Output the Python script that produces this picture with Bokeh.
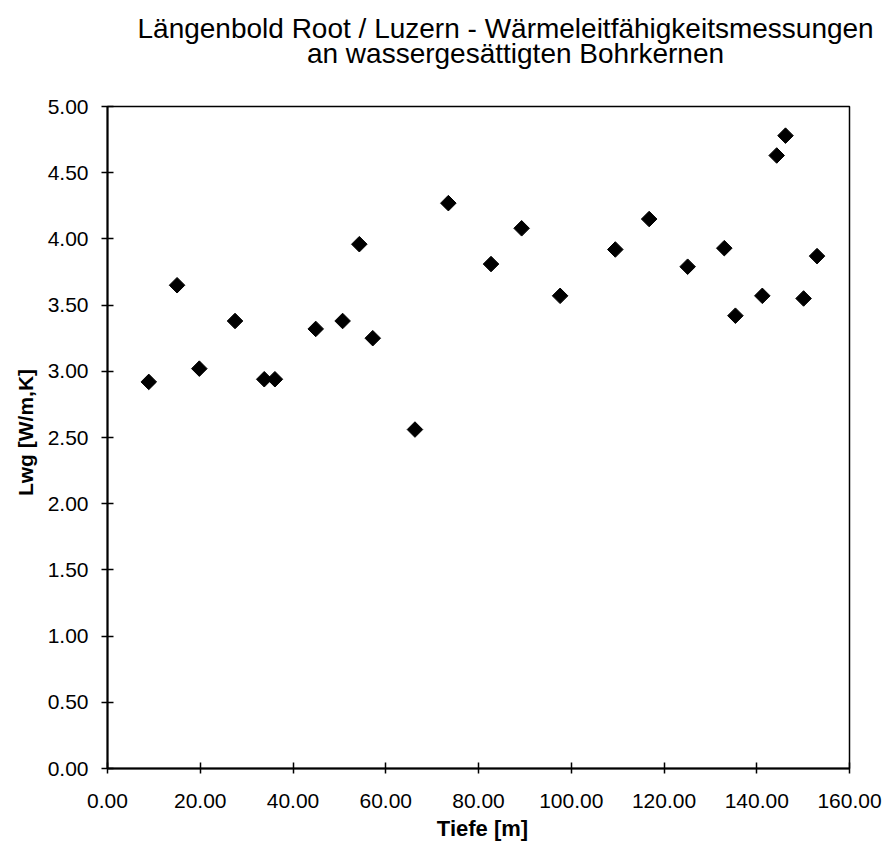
import numpy as np
from bokeh.plotting import figure
from bokeh.models import Range1d, FixedTicker, NumeralTickFormatter, Label
from bokeh.embed import file_html
from bokeh.resources import INLINE

# ---- data ----
title_line1 = "Längenbold Root / Luzern - Wärmeleitfähigkeitsmessungen"
title_line2 = "an wassergesättigten Bohrkernen"
x_label = "Tiefe [m]"
y_label = "Lwg [W/m,K]"

depth_m = [8.9, 15.0, 19.8, 27.5, 33.8, 36.1, 44.9, 50.7, 54.3, 57.2, 66.3,
           73.5, 82.7, 89.3, 97.6, 109.5, 116.8, 125.1, 133.0, 135.4, 141.2,
           144.3, 146.2, 150.1, 153.0]
lwg = [2.92, 3.65, 3.02, 3.38, 2.94, 2.94, 3.32, 3.38, 3.96, 3.25, 2.56,
       4.27, 3.81, 4.08, 3.57, 3.92, 4.15, 3.79, 3.93, 3.42, 3.57,
       4.63, 4.78, 3.55, 3.87]

x_ticks = [0, 20, 40, 60, 80, 100, 120, 140, 160]
y_ticks = [0.0, 0.5, 1.0, 1.5, 2.0, 2.5, 3.0, 3.5, 4.0, 4.5, 5.0]

# ---- layout (pixels on the 888x845 canvas) ----
W, H = 888, 845
PX_L, PX_R, PX_T, PX_B = 107, 849, 106, 768   # the drawn plot box
X0, X1 = x_ticks[0], x_ticks[-1]
Y0, Y1 = y_ticks[0], y_ticks[-1]
FONT = "Liberation Sans"

# the frame covers the whole canvas; axes are drawn at fixed locations
ux = (X1 - X0) / (PX_R - PX_L)
uy = (Y1 - Y0) / (PX_B - PX_T)
x_start, x_end = X0 - PX_L * ux, X1 + (W - PX_R) * ux
y_start, y_end = Y0 - (H - PX_B) * uy, Y1 + PX_T * uy

def fx(px):
    return X0 + (px - PX_L) * ux

def fy(py):
    return Y0 + (PX_B - py) * uy

p = figure(width=W, height=H, output_backend="svg", toolbar_location=None,
           x_range=Range1d(x_start, x_end), y_range=Range1d(y_start, y_end),
           min_border=0)

p.background_fill_color = "white"
p.border_fill_color = "white"
p.xgrid.visible = False
p.ygrid.visible = False
p.outline_line_color = None

xa, ya = p.xaxis[0], p.yaxis[0]
for ax in (xa, ya):
    ax.axis_line_color = "black"
    ax.axis_line_width = 2
    ax.major_tick_line_color = "black"
    ax.major_tick_line_width = 1.5
    ax.minor_tick_line_color = None
    ax.major_label_text_font = FONT
    ax.major_label_text_font_size = "21px"
    ax.major_label_text_color = "black"
    ax.formatter = NumeralTickFormatter(format="0.00")

xa.fixed_location = Y0
ya.fixed_location = X0
xa.bounds = (X0, X1)
ya.bounds = (Y0, Y1)
xa.ticker = FixedTicker(ticks=x_ticks)
ya.ticker = FixedTicker(ticks=y_ticks)
xa.major_tick_in = 6
xa.major_tick_out = 5
xa.major_label_standoff = 20
ya.major_tick_in = 6
ya.major_tick_out = 6
ya.major_label_standoff = 13

# plot box (top and right edges of the chart area)
p.quad(left=[X0], right=[X1], bottom=[Y0], top=[Y1],
       fill_color=None, line_color="black", line_width=1.5)

p.scatter(depth_m, lwg, marker="square", angle=np.pi / 4, size=11,
          fill_color="black", line_color="black")

# ---- texts ----
p.add_layout(Label(x=fx(137), y=fy(28), text=title_line1, text_align="left",
                   text_baseline="alphabetic", text_font=FONT,
                   text_font_size="28px", text_color="black"))
p.add_layout(Label(x=fx(515), y=fy(53), text=title_line2, text_align="center",
                   text_baseline="alphabetic", text_font=FONT,
                   text_font_size="28px", text_color="black"))
p.add_layout(Label(x=fx(482), y=fy(828), text=x_label, text_align="center",
                   text_baseline="middle", text_font=FONT, text_font_style="bold",
                   text_font_size="22px", text_color="black"))
p.add_layout(Label(x=fx(25), y=fy(432), text=y_label, text_align="center",
                   text_baseline="middle", angle=np.pi / 2, text_font=FONT,
                   text_font_style="bold", text_font_size="21px", text_color="black"))

open("out.html", "w").write(file_html(p, INLINE))
